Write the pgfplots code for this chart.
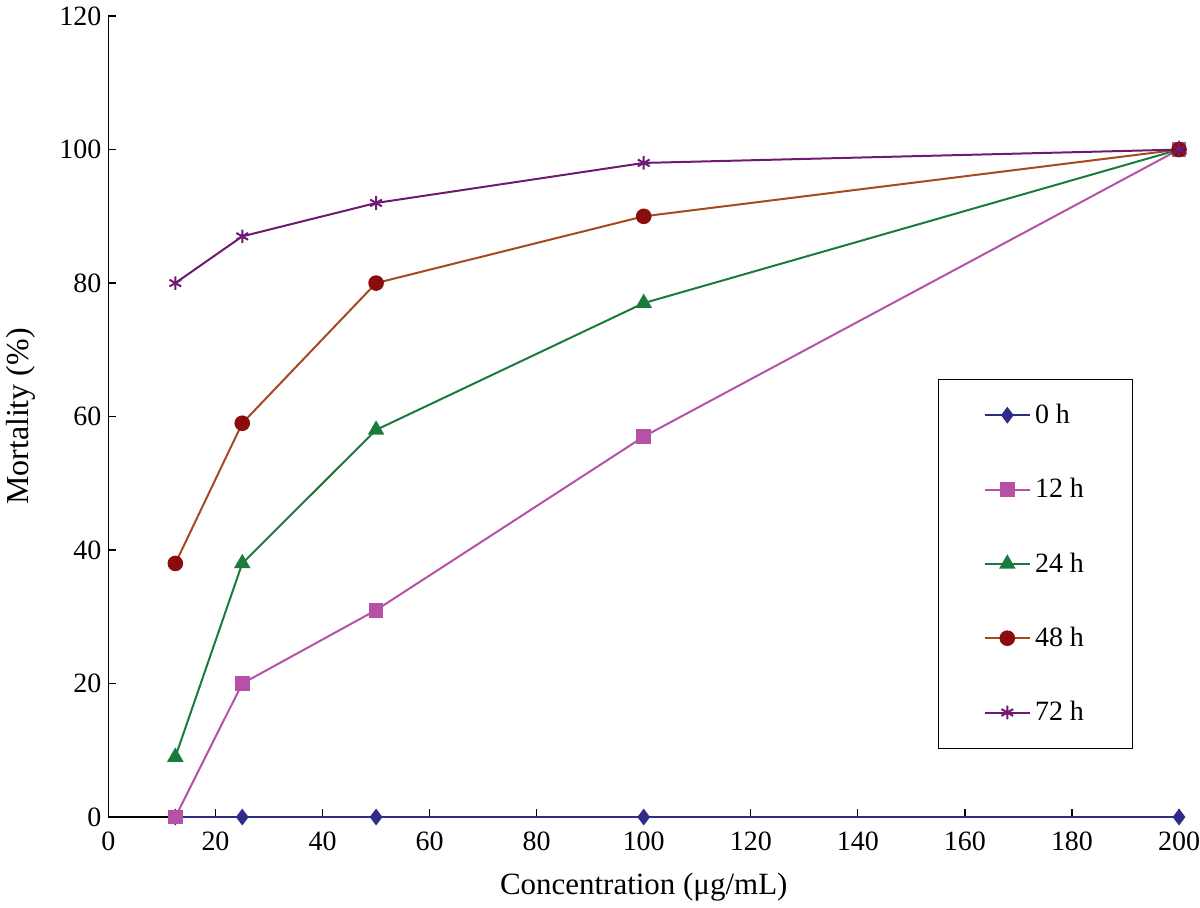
\documentclass[border=0pt]{standalone}
\usepackage{pgfplots}
\pgfplotsset{compat=1.18}
\usepackage{fontspec}
\setmainfont{Liberation Serif}

\definecolor{c0}{HTML}{2E2C88}
\definecolor{c12}{HTML}{B652A6}
\definecolor{c24}{HTML}{1B7B3C}
\definecolor{c48}{HTML}{A34A1E}
\definecolor{m48}{HTML}{8A0C0C}
\definecolor{c72}{HTML}{6E1A70}

\begin{document}
\begin{tikzpicture}
\begin{axis}[
    name=ax,
    width=536pt, height=401pt, scale only axis,
    xmin=0, xmax=200, ymin=0, ymax=120,
    xtick={0,20,...,200}, ytick={0,20,...,120},
    axis x line*=bottom, axis y line*=left,
    axis line style={-, line width=0.6pt},
    tick style={black, line width=0.6pt},
    tick align=inside, major tick length=4pt,
    tick label style={font=\fontsize{14}{16}\selectfont},
    xticklabel style={yshift=-4pt, overlay},
    /pgf/number format/assume math mode=true,
    xlabel={Concentration (μg/mL)},
    ylabel={Mortality (\%)},
    label style={font=\fontsize{15.5}{18}\selectfont},
    ylabel style={font=\fontsize{16}{18}\selectfont},
    xlabel style={yshift=-4pt},
    ylabel style={yshift=5pt},
    every axis plot/.append style={line width=1pt},
    legend style={at={(axis cs:155,65.7)}, anchor=north west,
        draw=black, line width=0.5pt, font=\fontsize{14}{16}\selectfont,
        inner xsep=22.5pt, inner ysep=10.5pt, row sep=22pt,
        cells={anchor=west}},
    legend image code/.code={%
        \draw[mark repeat=2,mark phase=2]
        plot coordinates {(0cm,0cm) (0.4cm,0cm) (0.8cm,0cm)};},
]
\addplot[c0, mark=diamond*, mark size=3.4pt, mark options={fill=c0}]
  coordinates {(12.5,0) (25,0) (50,0) (100,0) (200,0)};
\addlegendentry{0 h}
\addplot[c12, mark=square*, mark size=3.2pt, mark options={fill=c12}]
  coordinates {(12.5,0) (25,20) (50,31) (100,57) (200,100)};
\addlegendentry{12 h}
\addplot[c24, mark=triangle*, mark size=3.8pt, mark options={fill=c24}]
  coordinates {(12.5,9) (25,38) (50,58) (100,77) (200,100)};
\addlegendentry{24 h}
\addplot[c48, mark=*, mark size=3.4pt, mark options={fill=m48, draw=m48}]
  coordinates {(12.5,38) (25,59) (50,80) (100,90) (200,100)};
\addlegendentry{48 h}
\addplot[c72, mark=asterisk, mark size=3.4pt]
  coordinates {(12.5,80) (25,87) (50,92) (100,98) (200,100)};
\addlegendentry{72 h}
\end{axis}
\path (ax.south east) -- ++(10.5pt,0);
\end{tikzpicture}
\end{document}
